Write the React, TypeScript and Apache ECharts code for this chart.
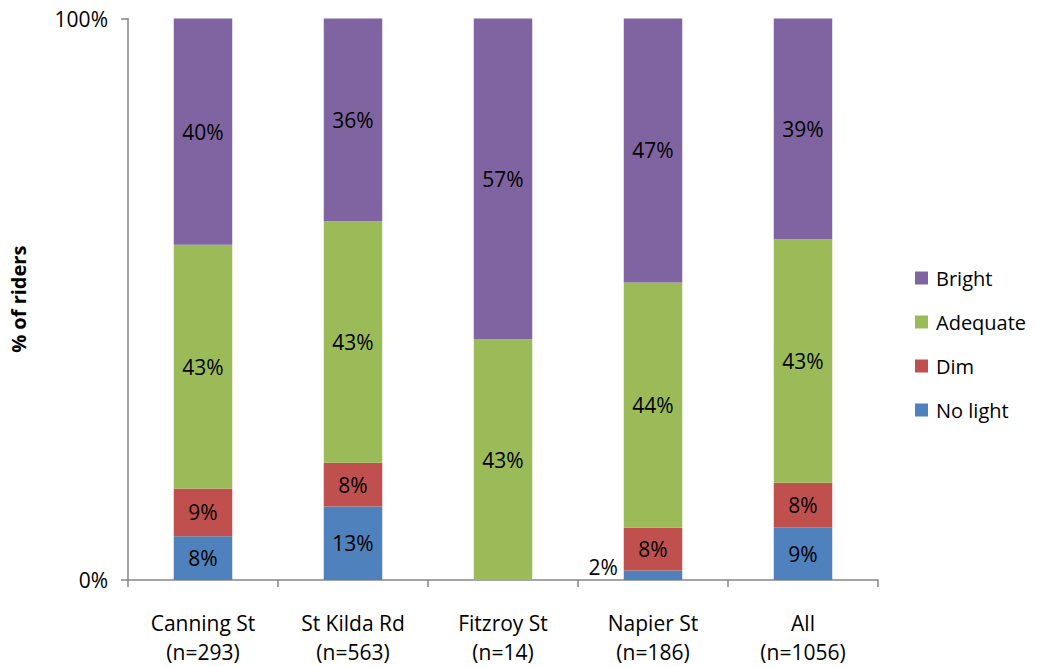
import React, { useEffect, useRef } from "react";
import * as echarts from "echarts";

const categories = ["Canning St\n(n=293)", "St Kilda Rd\n(n=563)", "Fitzroy St\n(n=14)", "Napier St\n(n=186)", "All\n(n=1056)"];
const noLight = [7.8, 13.1, 0, 1.7, 9.4];
const dim = [8.5, 7.8, 0, 7.6, 7.9];
const adequate = [43.4, 43.0, 42.9, 43.7, 43.4];
const bright = [40.3, 36.1, 57.1, 47.0, 39.3];
const yTicks = ["0%", "100%"];

const FONT = "'Open Sans', sans-serif";
const FS = 21;

export default function App() {
  const ref = useRef<HTMLDivElement>(null);
  useEffect(() => {
    const chart = echarts.init(ref.current!, null, { renderer: "svg" });
    const labelFmt = (p: any) => (p.value ? Math.round(p.value) + "%" : "");
    const mk = (name: string, data: number[], color: string, extra?: any) => ({
      name,
      type: "bar",
      stack: "s",
      barWidth: "39%",
      data: data.map((v, i) => (extra && extra[i] ? { value: v, label: extra[i] } : v)),
      itemStyle: { color },
      label: { show: true, position: "inside", formatter: labelFmt, color: "#000", fontSize: FS, fontFamily: FONT },
    });
    chart.setOption({
      animation: false,
      textStyle: { fontFamily: FONT },
      grid: { left: 128, top: 18.5, right: 162, bottom: 83 },
      legend: {
        data: ["Bright", "Adequate", "Dim", "No light"],
        orient: "vertical",
        left: 915,
        top: 264,
        padding: 0,
        itemWidth: 13,
        itemHeight: 13,
        itemGap: 16,
        icon: "rect",
        textStyle: { fontSize: FS - 1, lineHeight: 28, color: "#000", fontFamily: FONT, padding: [0, 0, 0, 3] },
      },
      xAxis: {
        type: "category",
        data: categories,
        axisLine: { lineStyle: { color: "#868686", width: 1.5 } },
        axisTick: { show: true, length: 7, lineStyle: { color: "#868686", width: 1.5 } },
        axisLabel: { color: "#000", fontSize: FS, lineHeight: 29, margin: 28, fontFamily: FONT },
      },
      yAxis: {
        type: "value",
        min: 0,
        max: 100,
        interval: 100,
        name: "% of riders",
        nameLocation: "middle",
        nameGap: 100,
        nameTextStyle: { fontSize: 20, fontWeight: "bold", color: "#000", fontFamily: FONT },
        axisLine: { show: true, lineStyle: { color: "#868686", width: 1.5 } },
        axisTick: { show: true, length: 7, lineStyle: { color: "#868686", width: 1.5 } },
        splitLine: { show: false },
        axisLabel: {
          color: "#000",
          fontSize: FS,
          margin: 20,
          fontFamily: FONT,
          formatter: (v: number) => (v === 0 ? yTicks[0] : yTicks[1]),
        },
      },
      series: [
        mk("No light", noLight, "#4F81BD", [null, null, null, { show: true, position: "left", distance: 6, offset: [0, -8] }, null]),
        mk("Dim", dim, "#C0504D"),
        mk("Adequate", adequate, "#9BBB59"),
        mk("Bright", bright, "#8064A2"),
      ],
    });
    return () => chart.dispose();
  }, []);
  return <div ref={ref} style={{ position: "absolute", left: 0, top: 0, width: 1040, height: 666 }} />;
}
